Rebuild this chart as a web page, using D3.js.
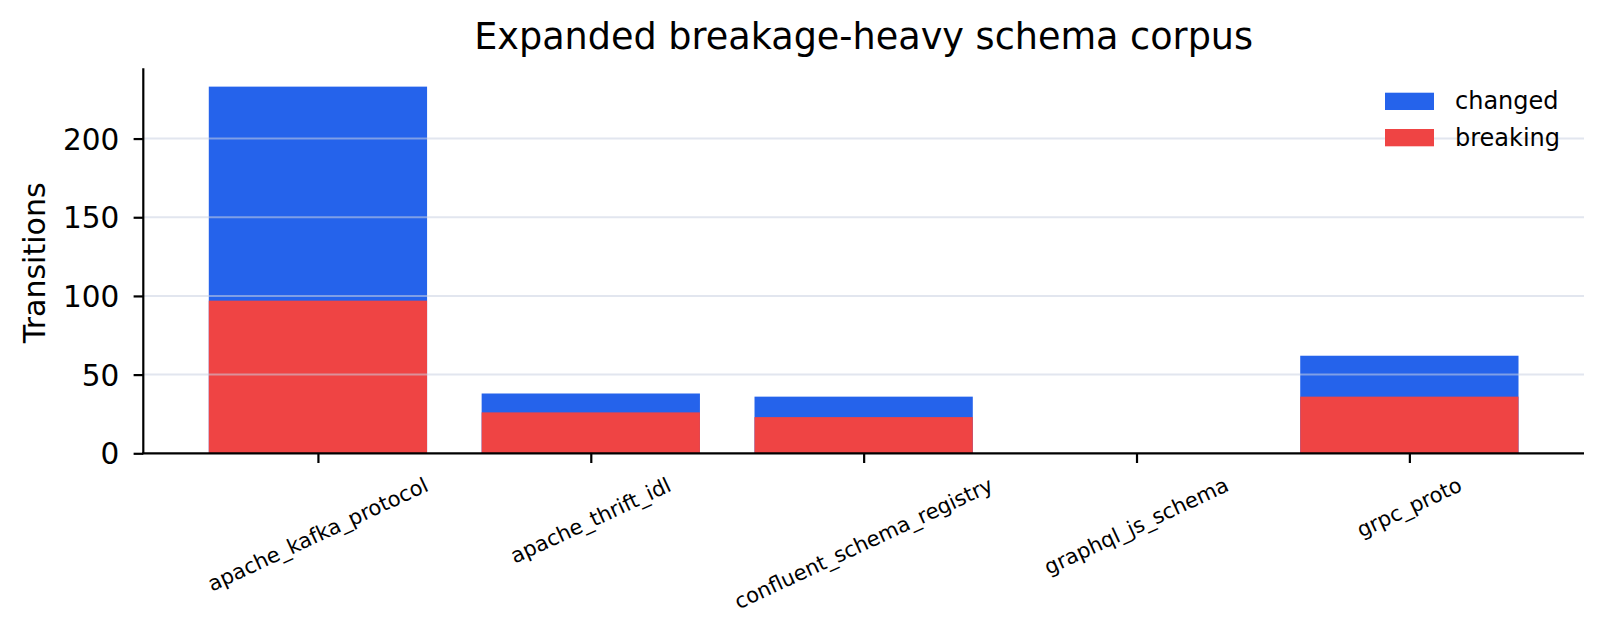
<!DOCTYPE html>
<html lang="en">

<head>
    <meta charset="UTF-8">
    <title>Expanded breakage-heavy schema corpus</title>
    <script src="https://d3js.org/d3.v7.min.js"></script>
    <style>
        body {
            margin: 0;
            overflow: hidden;
            background: #fff;
        }

        text {
            font-family: "DejaVu Sans", sans-serif;
            fill: #000;
        }
    </style>
</head>

<body>
    <script>
        // chart data
        var categories = ["apache_kafka_protocol", "apache_thrift_idl", "confluent_schema_registry", "graphql_js_schema", "grpc_proto"];
        var changed = [233, 38, 36, 0, 62];
        var breaking = [97, 26, 23, 0, 36];
        var yTicks = [0, 50, 100, 150, 200];

        var width = 1605,
            height = 638;
        var margin = { left: 143.3, right: 1584, top: 68.3, bottom: 453.3 };

        var svg = d3.select("body").append("svg")
            .attr("width", width)
            .attr("height", height);

        // matplotlib style limits: 0.8 wide bars, 5% margins
        var n = categories.length;
        var xPad = 0.4 + 0.05 * (n - 1 + 0.8);
        var x = d3.scaleLinear()
            .domain([-xPad, n - 1 + xPad])
            .range([margin.left, margin.right]);

        var yMax = d3.max(changed) * 1.05;
        var y = d3.scaleLinear()
            .domain([0, yMax])
            .range([margin.bottom, margin.top]);

        var barW = x(0.8) - x(0);

        // changed bars behind, breaking bars in front
        svg.append("g")
            .selectAll("rect")
            .data(changed)
            .enter().append("rect")
            .attr("x", (d, i) => x(i) - barW / 2)
            .attr("y", d => y(d))
            .attr("width", barW)
            .attr("height", d => y(0) - y(d))
            .attr("fill", "#2563eb");

        svg.append("g")
            .selectAll("rect")
            .data(breaking)
            .enter().append("rect")
            .attr("x", (d, i) => x(i) - barW / 2)
            .attr("y", d => y(d))
            .attr("width", barW)
            .attr("height", d => y(0) - y(d))
            .attr("fill", "#ef4444");

        // grid sits above the bars
        svg.append("g")
            .selectAll("line")
            .data(yTicks.filter(d => d > 0))
            .enter().append("line")
            .attr("x1", margin.left)
            .attr("x2", margin.right)
            .attr("y1", d => y(d))
            .attr("y2", d => y(d))
            .attr("stroke", "#cbd2e1")
            .attr("stroke-opacity", 0.55)
            .attr("stroke-width", 2);

        // y axis
        var yAxis = d3.axisLeft(y)
            .tickValues(yTicks)
            .tickSize(9.7)
            .tickPadding(10);

        var gy = svg.append("g")
            .attr("transform", `translate(${margin.left},0)`)
            .call(yAxis);
        gy.select(".domain").remove();
        gy.selectAll(".tick line").attr("stroke", "#000").attr("stroke-width", 2.2);
        gy.selectAll(".tick text")
            .attr("font-size", 29.5)
            .attr("font-family", "DejaVu Sans")
            .attr("dy", "0.36em")
            .attr("x", -24);

        // x axis ticks
        var gx = svg.append("g")
            .attr("transform", `translate(0,${margin.bottom})`)
            .call(d3.axisBottom(x).tickValues(d3.range(n)).tickSize(9.7).tickFormat(""));
        gx.select(".domain").remove();
        gx.selectAll(".tick line").attr("stroke", "#000").attr("stroke-width", 2.2);

        // rotated category labels, bbox centred under the tick
        var labelTop = margin.bottom + 9.7 + 9.7;
        var fs = 21;
        var ang = 25 * Math.PI / 180;
        categories.forEach(function(c, i) {
            var t = svg.append("text")
                .attr("font-size", fs)
                .attr("text-anchor", "middle")
                .attr("dominant-baseline", "central")
                .text(c);
            var L = t.node().getComputedTextLength();
            var h = fs * 1.17;
            var bh = L * Math.sin(ang) + h * Math.cos(ang);
            var cx = x(i),
                cy = labelTop + bh / 2;
            t.attr("x", cx).attr("y", cy)
                .attr("transform", `rotate(-25,${cx},${cy})`);
        });

        // spines
        svg.append("line")
            .attr("x1", margin.left).attr("x2", margin.left)
            .attr("y1", margin.top).attr("y2", margin.bottom)
            .attr("stroke", "#000").attr("stroke-width", 2.2);
        svg.append("line")
            .attr("x1", margin.left - 1.1).attr("x2", margin.right)
            .attr("y1", margin.bottom).attr("y2", margin.bottom)
            .attr("stroke", "#000").attr("stroke-width", 2.2);

        // title and y label
        svg.append("text")
            .attr("x", (margin.left + margin.right) / 2)
            .attr("y", 49)
            .attr("text-anchor", "middle")
            .attr("font-size", 36.6)
            .text("Expanded breakage-heavy schema corpus");

        svg.append("text")
            .attr("transform", `translate(34,${(margin.top + margin.bottom) / 2 + 2}) rotate(-90)`)
            .attr("text-anchor", "middle")
            .attr("dominant-baseline", "central")
            .attr("font-size", 30)
            .text("Transitions");

        // legend
        var legend = [
            { label: "changed", color: "#2563eb" },
            { label: "breaking", color: "#ef4444" }
        ];
        var lg = svg.append("g")
            .selectAll("g")
            .data(legend)
            .enter().append("g")
            .attr("transform", (d, i) => `translate(1385,${92.7 + i * 36.3})`);
        lg.append("rect")
            .attr("width", 49)
            .attr("height", 17.3)
            .attr("fill", d => d.color);
        lg.append("text")
            .attr("x", 70)
            .attr("y", 8.6)
            .attr("dominant-baseline", "central")
            .attr("font-size", 24)
            .text(d => d.label);
    </script>
</body>

</html>
